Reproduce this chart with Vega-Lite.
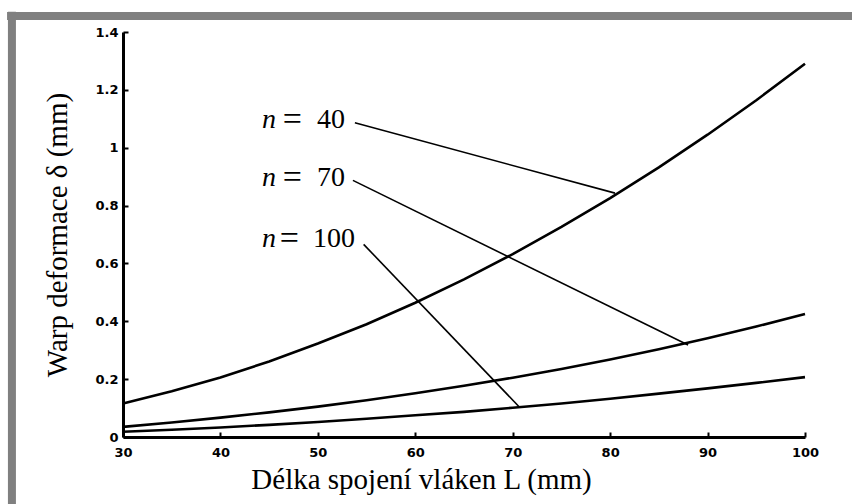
{
  "$schema": "https://vega.github.io/schema/vega-lite/v6.json",
  "width": 682,
  "height": 405,
  "autosize": {"type": "none"},
  "padding": {"left": 123, "top": 32, "right": 47, "bottom": 67},
  "background": "white",
  "config": {
    "view": {"stroke": null},
    "axis": {
      "grid": false,
      "domainColor": "black",
      "domainWidth": 3,
      "tickColor": "black",
      "tickWidth": 2,
      "tickSize": -5,
      "labelColor": "black",
      "labelFont": "DejaVu Sans",
      "labelFontWeight": "bold",
      "labelFontSize": 13,
      "labelOverlap": false,
      "labelFlush": false,
      "titleFont": "Liberation Serif",
      "titleFontSize": 29,
      "titleFontWeight": "normal",
      "titleColor": "black"
    }
  },
  "datasets": {
    "curves": [
      {"L": 30, "d": 0.116, "n": "40"}, {"L": 35, "d": 0.158, "n": "40"}, {"L": 40, "d": 0.206, "n": "40"},
      {"L": 45, "d": 0.261, "n": "40"}, {"L": 50, "d": 0.323, "n": "40"}, {"L": 55, "d": 0.39, "n": "40"},
      {"L": 60, "d": 0.464, "n": "40"}, {"L": 65, "d": 0.545, "n": "40"}, {"L": 70, "d": 0.632, "n": "40"},
      {"L": 75, "d": 0.726, "n": "40"}, {"L": 80, "d": 0.826, "n": "40"}, {"L": 85, "d": 0.932, "n": "40"},
      {"L": 90, "d": 1.045, "n": "40"}, {"L": 95, "d": 1.164, "n": "40"}, {"L": 100, "d": 1.29, "n": "40"},
      {"L": 30, "d": 0.035, "n": "70"}, {"L": 35, "d": 0.05, "n": "70"}, {"L": 40, "d": 0.067, "n": "70"},
      {"L": 45, "d": 0.085, "n": "70"}, {"L": 50, "d": 0.105, "n": "70"}, {"L": 55, "d": 0.127, "n": "70"},
      {"L": 60, "d": 0.151, "n": "70"}, {"L": 65, "d": 0.177, "n": "70"}, {"L": 70, "d": 0.205, "n": "70"},
      {"L": 75, "d": 0.235, "n": "70"}, {"L": 80, "d": 0.268, "n": "70"}, {"L": 85, "d": 0.303, "n": "70"},
      {"L": 90, "d": 0.341, "n": "70"}, {"L": 95, "d": 0.382, "n": "70"}, {"L": 100, "d": 0.425, "n": "70"},
      {"L": 30, "d": 0.018, "n": "100"}, {"L": 35, "d": 0.025, "n": "100"}, {"L": 40, "d": 0.033, "n": "100"},
      {"L": 45, "d": 0.042, "n": "100"}, {"L": 50, "d": 0.052, "n": "100"}, {"L": 55, "d": 0.063, "n": "100"},
      {"L": 60, "d": 0.075, "n": "100"}, {"L": 65, "d": 0.087, "n": "100"}, {"L": 70, "d": 0.101, "n": "100"},
      {"L": 75, "d": 0.116, "n": "100"}, {"L": 80, "d": 0.132, "n": "100"}, {"L": 85, "d": 0.15, "n": "100"},
      {"L": 90, "d": 0.168, "n": "100"}, {"L": 95, "d": 0.187, "n": "100"}, {"L": 100, "d": 0.207, "n": "100"}
    ],
    "leaders": [
      {"x1": 53.8, "y1": 1.086, "x2": 80.5, "y2": 0.843},
      {"x1": 53.6, "y1": 0.887, "x2": 88.0, "y2": 0.318},
      {"x1": 54.7, "y1": 0.666, "x2": 70.7, "y2": 0.103}
    ],
    "labels": [
      {"xn": 44.27, "xe": 46.4, "xv": 49.91, "y": 1.067, "v": "40"},
      {"xn": 44.27, "xe": 46.4, "xv": 49.91, "y": 0.867, "v": "70"},
      {"xn": 44.27, "xe": 46.1, "xv": 49.5, "y": 0.656, "v": "100"}
    ]
  },
  "layer": [
    {
      "data": {"values": [{}]},
      "mark": {"type": "rule", "color": "#808080", "strokeWidth": 8},
      "encoding": {
        "x": {"datum": 18.1, "type": "quantitative", "scale": {"domain": [30, 100], "nice": false}},
        "x2": {"datum": 106},
        "y": {"datum": 1.455, "type": "quantitative"}
      }
    },
    {
      "data": {"values": [{}]},
      "mark": {"type": "rule", "color": "#808080", "strokeWidth": 8},
      "encoding": {
        "x": {"datum": 18.6, "type": "quantitative"},
        "y": {"datum": 1.47, "type": "quantitative"},
        "y2": {"datum": -0.26}
      }
    },
    {
      "data": {"name": "curves"},
      "mark": {"type": "line", "color": "black", "strokeWidth": 2.6},
      "encoding": {
        "x": {
          "field": "L", "type": "quantitative",
          "scale": {"domain": [30, 100], "nice": false},
          "axis": {"values": [30, 40, 50, 60, 70, 80, 90, 100], "title": "Délka spojení vláken L (mm)", "labelPadding": 14, "titleX": 298, "titleY": 51, "titleBaseline": "alphabetic", "titleAlign": "center"}
        },
        "y": {
          "field": "d", "type": "quantitative",
          "scale": {"domain": [0, 1.4], "nice": false},
          "axis": {"values": [0, 0.2, 0.4, 0.6, 0.8, 1, 1.2, 1.4], "format": "~g", "title": "Warp deformace δ (mm)", "labelPadding": 10, "titlePadding": 22}
        },
        "detail": {"field": "n"}
      }
    },
    {
      "data": {"name": "leaders"},
      "mark": {"type": "rule", "color": "black", "strokeWidth": 1.6},
      "encoding": {
        "x": {"field": "x1", "type": "quantitative"},
        "y": {"field": "y1", "type": "quantitative"},
        "x2": {"field": "x2"},
        "y2": {"field": "y2"}
      }
    },
    {
      "data": {"name": "labels"},
      "mark": {"type": "text", "font": "Liberation Serif", "fontStyle": "italic", "fontSize": 28, "align": "left", "baseline": "alphabetic", "color": "black"},
      "encoding": {
        "x": {"field": "xn", "type": "quantitative"},
        "y": {"field": "y", "type": "quantitative"},
        "text": {"value": "n"}
      }
    },
    {
      "data": {"name": "labels"},
      "mark": {"type": "text", "font": "Liberation Serif", "fontSize": 34, "align": "left", "baseline": "alphabetic", "color": "black", "dy": 2},
      "encoding": {
        "x": {"field": "xe", "type": "quantitative"},
        "y": {"field": "y", "type": "quantitative"},
        "text": {"value": "="}
      }
    },
    {
      "data": {"name": "labels"},
      "mark": {"type": "text", "font": "Liberation Serif", "fontSize": 28, "align": "left", "baseline": "alphabetic", "color": "black"},
      "encoding": {
        "x": {"field": "xv", "type": "quantitative"},
        "y": {"field": "y", "type": "quantitative"},
        "text": {"field": "v"}
      }
    }
  ]
}
